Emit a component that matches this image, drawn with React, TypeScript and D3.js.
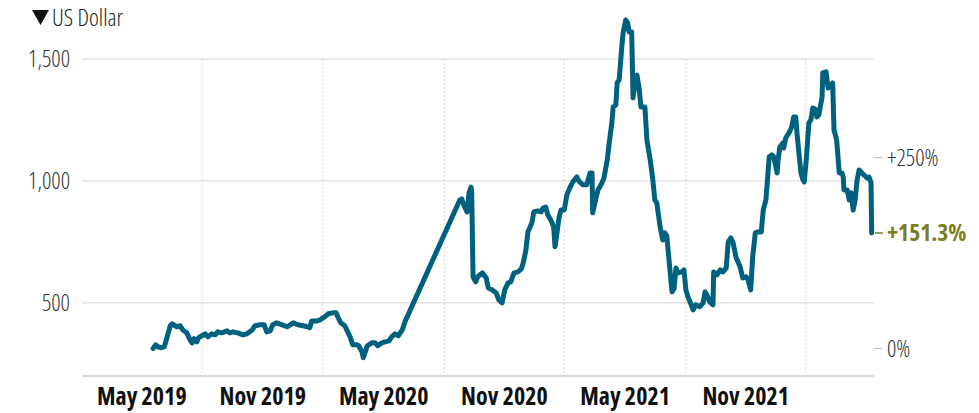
import * as d3 from 'd3';

const dates = [
  '2019-08-18', '2019-08-22', '2019-08-25', '2019-08-31', '2019-09-04', '2019-09-08', '2019-09-13', '2019-09-16',
  '2019-09-20', '2019-09-23', '2019-09-28', '2019-10-02', '2019-10-08', '2019-10-13', '2019-10-16', '2019-10-19',
  '2019-10-23', '2019-10-26', '2019-10-31', '2019-11-05', '2019-11-09', '2019-11-15', '2019-11-20', '2019-11-24',
  '2019-11-30', '2019-12-08', '2019-12-12', '2019-12-17', '2019-12-24', '2020-01-01', '2020-01-07', '2020-01-15',
  '2020-01-19', '2020-01-27', '2020-02-02', '2020-02-06', '2020-02-11', '2020-02-15', '2020-02-21', '2020-02-29',
  '2020-03-08', '2020-03-17', '2020-03-24', '2020-04-01', '2020-04-07', '2020-04-11', '2020-04-14', '2020-04-22',
  '2020-04-27', '2020-05-01', '2020-05-04', '2020-05-09', '2020-05-16', '2020-05-21', '2020-05-24', '2020-05-28',
  '2020-06-03', '2020-06-06', '2020-06-11', '2020-06-15', '2020-06-21', '2020-06-24', '2020-06-29', '2020-07-01',
  '2020-07-04', '2020-07-07', '2020-07-14', '2020-07-19', '2020-07-23', '2020-07-29', '2020-08-03', '2020-08-09',
  '2020-08-13', '2020-08-18', '2020-08-23', '2020-08-29', '2020-09-02',
  '2020-11-24', '2020-11-27', '2020-11-30', '2020-12-05', '2020-12-08', '2020-12-11', '2020-12-12', '2020-12-14',
  '2020-12-18', '2020-12-21', '2020-12-28', '2021-01-03', '2021-01-06', '2021-01-12', '2021-01-18', '2021-01-22',
  '2021-01-27', '2021-01-31', '2021-02-05', '2021-02-09', '2021-02-14', '2021-02-20', '2021-02-25', '2021-02-28',
  '2021-03-04', '2021-03-07', '2021-03-13', '2021-03-16', '2021-03-22', '2021-03-27', '2021-03-30', '2021-04-03',
  '2021-04-06', '2021-04-12', '2021-04-15', '2021-04-17', '2021-04-20', '2021-04-23', '2021-04-26', '2021-05-01',
  '2021-05-05', '2021-05-10', '2021-05-14', '2021-05-20', '2021-05-23', '2021-05-29', '2021-06-04', '2021-06-09',
  '2021-06-12', '2021-06-13', '2021-06-18', '2021-06-21', '2021-06-27', '2021-06-30', '2021-07-05', '2021-07-08',
  '2021-07-12', '2021-07-14', '2021-07-18', '2021-07-20', '2021-07-23', '2021-07-27', '2021-07-29', '2021-08-02',
  '2021-08-05', '2021-08-07', '2021-08-11', '2021-08-13', '2021-08-16', '2021-08-19', '2021-08-22', '2021-08-25',
  '2021-08-31', '2021-09-03', '2021-09-08', '2021-09-12', '2021-09-15', '2021-09-18', '2021-09-23', '2021-09-27',
  '2021-09-30', '2021-10-03', '2021-10-06', '2021-10-11', '2021-10-14', '2021-10-17', '2021-10-20', '2021-10-26',
  '2021-10-29', '2021-11-01', '2021-11-04', '2021-11-09', '2021-11-12', '2021-11-16', '2021-11-22', '2021-11-27',
  '2021-11-30', '2021-12-04', '2021-12-07', '2021-12-12', '2021-12-13', '2021-12-18', '2021-12-23', '2021-12-27',
  '2022-01-01', '2022-01-04', '2022-01-08', '2022-01-11', '2022-01-16', '2022-01-22', '2022-01-26', '2022-01-31',
  '2022-02-03', '2022-02-07', '2022-02-10', '2022-02-14', '2022-02-18', '2022-02-23', '2022-02-26', '2022-03-02',
  '2022-03-04', '2022-03-07', '2022-03-11', '2022-03-14', '2022-03-19', '2022-03-20', '2022-03-23', '2022-03-28',
  '2022-03-29', '2022-04-01', '2022-04-06', '2022-04-10', '2022-04-13', '2022-04-16', '2022-04-19', '2022-04-24',
  '2022-04-27', '2022-04-29', '2022-05-02', '2022-05-06', '2022-05-09', '2022-05-12', '2022-05-17', '2022-05-18',
  '2022-05-21', '2022-05-26', '2022-05-27', '2022-06-01', '2022-06-02', '2022-06-04', '2022-06-08', '2022-06-11',
  '2022-06-13', '2022-06-17', '2022-06-21', '2022-06-25', '2022-06-27', '2022-06-28', '2022-07-03', '2022-07-06',
  '2022-07-09', '2022-07-12', '2022-07-15', '2022-07-18', '2022-07-21', '2022-07-25', '2022-07-28', '2022-08-02',
  '2022-08-05', '2022-08-08', '2022-08-09',
];

const values = [
  313, 328, 320, 316, 320, 357, 406, 414,
  406, 402, 406, 389, 377, 348, 336, 353,
  340, 357, 365, 373, 361, 373, 369, 381,
  377, 385, 377, 381, 377, 369, 373, 389,
  406, 410, 410, 381, 385, 410, 418, 410,
  402, 418, 410, 406, 402, 398, 426, 426,
  430, 439, 443, 455, 459, 459, 439, 418,
  406, 389, 361, 328, 328, 324, 299, 275,
  299, 324, 336, 336, 324, 336, 340, 344,
  361, 373, 365, 389, 422,
  922, 926, 902, 873, 951, 975, 955, 607,
  586, 607, 623, 602, 562, 553, 541, 512,
  500, 553, 582, 586, 623, 627, 639, 664,
  717, 791, 828, 873, 877, 873, 889, 893,
  861, 832, 811, 730, 787, 848, 881, 881,
  943, 975, 996, 1016, 1000, 984, 984, 1033,
  1033, 869, 930, 963, 992, 1012, 1086, 1156,
  1238, 1303, 1311, 1402, 1414, 1549, 1607, 1660,
  1647, 1611, 1611, 1340, 1402, 1434, 1385, 1303,
  1303, 1168, 1086, 1004, 922, 910, 811, 758,
  787, 775, 689, 545, 557, 643, 623, 627,
  635, 553, 525, 492, 471, 492, 484, 500,
  545, 525, 504, 492, 627, 615, 635, 627,
  643, 750, 766, 750, 685, 648, 602, 607,
  594, 553, 689, 787, 791, 791, 881, 922,
  992, 1098, 1107, 1098, 1033, 1074, 1139, 1156,
  1135, 1176, 1197, 1221, 1262, 1262, 1168, 1033,
  1004, 996, 1086, 1238, 1250, 1299, 1291, 1262,
  1270, 1344, 1443, 1447, 1426, 1381, 1385, 1402,
  1209, 1168, 1033, 1033, 1016, 963, 963, 922,
  951, 881, 922, 1004, 1045, 1033, 1025, 1012,
  1016, 992, 786.6,
];

const yTicks = [500, 1000, 1500];
const pctTicks = [0, 250];
const gridDates = ['2019-11-01', '2020-05-01', '2020-11-01', '2021-05-01', '2021-11-01', '2022-05-01'];
const periodStarts = ['2019-05-01', '2019-11-01', '2020-05-01', '2020-11-01', '2021-05-01', '2021-11-01'];
const periodLabels = ['May 2019', 'Nov 2019', 'May 2020', 'Nov 2020', 'May 2021', 'Nov 2021'];
const unitLabel = 'US Dollar';

const W = 979;
const H = 413;
const left = 81;
const right = 873;
const bottom = 376;
const font = "'Open Sans', 'Liberation Sans Narrow', sans-serif";
const lineColor = '#00617f';
const olive = '#7c7c22';
const gridColor = '#d4d4d4';

export default function App() {
  const parse = d3.utcParse('%Y-%m-%d');
  const points = dates.map((d, i) => ({ date: parse(d) as Date, value: values[i] }));

  const x = d3.scaleUtc()
    .domain([parse('2019-05-01') as Date, parse('2022-08-11') as Date])
    .range([left, right]);
  const y = d3.scaleLinear().domain([200, 1500]).range([bottom, 59]);

  const line = d3.line<{ date: Date; value: number }>()
    .x(d => x(d.date))
    .y(d => y(d.value));

  const base = values[0];
  const last = values[values.length - 1];
  const lastPct = (last / base - 1) * 100;

  return (
    <svg width={W} height={H} style={{ position: 'absolute', left: 0, top: 0 }} fontFamily={font}>
      {/* unit header */}
      <path d="M32,10 L49,10 L40.5,25 Z" fill="#111" />
      <text x={52} y={26} fontSize={23.5} fontWeight={300} fontStretch="condensed" fill="#222">{unitLabel}</text>

      {/* horizontal grid + left labels */}
      {yTicks.map(t => (
        <g key={t}>
          <line x1={left + 1} x2={right + 1} y1={y(t)} y2={y(t)} stroke={gridColor} strokeWidth={1} />
          <text x={70} y={y(t)} dy="0.36em" textAnchor="end" fontSize={23} fontWeight={300}
            fontStretch="condensed" fill="#333">{d3.format(',')(t)}</text>
        </g>
      ))}

      {/* vertical dotted grid */}
      {gridDates.map(d => (
        <line key={d} x1={x(parse(d) as Date)} x2={x(parse(d) as Date)} y1={y(1500)} y2={bottom}
          stroke="#d6d6d6" strokeWidth={1} strokeDasharray="2,2" />
      ))}

      {/* x baseline */}
      <line x1={left + 1} x2={right + 1} y1={bottom} y2={bottom} stroke={gridColor} strokeWidth={2} />

      {/* period labels */}
      {periodStarts.map((d, i) => {
        const s = parse(d) as Date;
        const e = d3.utcMonth.offset(s, 6);
        return (
          <text key={d} x={(x(s) + x(e)) / 2} y={405} textAnchor="middle" fontSize={24} fontWeight={700}
            fontStretch="condensed" fill="#111">{periodLabels[i]}</text>
        );
      })}

      {/* right percentage axis */}
      {pctTicks.map(p => {
        const yy = y(base * (1 + p / 100));
        return (
          <g key={p}>
            <line x1={874} x2={882} y1={yy} y2={yy} stroke="#bbb" strokeWidth={1} />
            <text x={887} y={yy} dy="0.36em" fontSize={23} fontWeight={300} fontStretch="condensed"
              fill="#333">{p === 0 ? '0%' : `+${p}%`}</text>
          </g>
        );
      })}

      <path d={line(points) || ''} fill="none" stroke={lineColor} strokeWidth={5}
        strokeLinejoin="round" strokeLinecap="round" />

      <line x1={875} x2={883} y1={y(last)} y2={y(last)} stroke={olive} strokeWidth={1.5} />
      <text x={887} y={y(last)} dy="0.36em" fontSize={23.5} fontWeight={700} fontStretch="condensed"
        fill={olive}>{`+${lastPct.toFixed(1)}%`}</text>
    </svg>
  );
}
